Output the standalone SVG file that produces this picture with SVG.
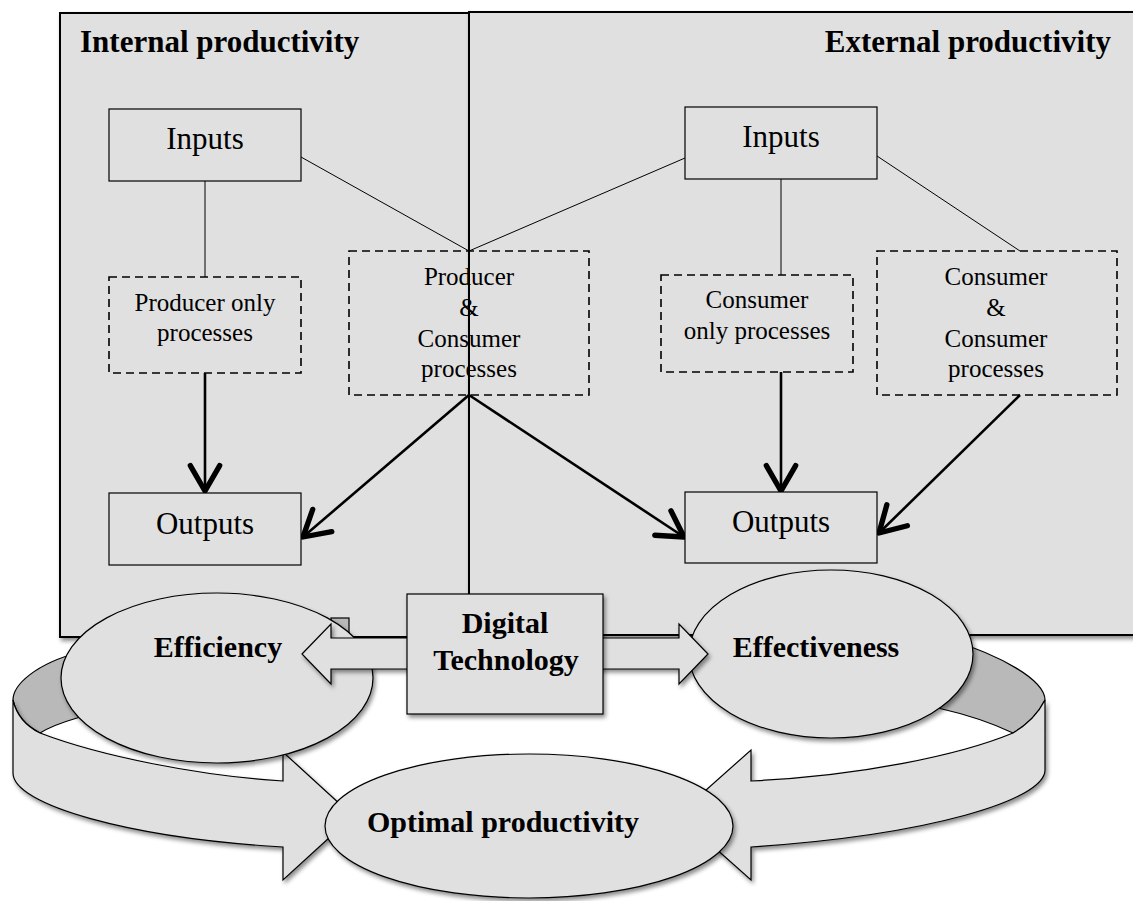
<svg xmlns="http://www.w3.org/2000/svg" width="1133" height="901" viewBox="0 0 1133 901">
<defs>
<filter id="sh" x="-10%" y="-10%" width="130%" height="130%">
<feDropShadow dx="2" dy="3" stdDeviation="2" flood-color="#000" flood-opacity="0.45"/>
</filter>
<marker id="ah" markerUnits="userSpaceOnUse" markerWidth="40" markerHeight="40" viewBox="-25 -15 30 30" refX="0" refY="0" orient="auto">
<path d="M-19,-11 L0,0 L-19,11" fill="none" stroke="#000" stroke-width="4" stroke-linejoin="round" stroke-linecap="round"/>
</marker>
<style>
.panel{fill:#e0e0e0;stroke:#000;stroke-width:2}
.box{fill:#e0e0e0;stroke:#000;stroke-width:1.2}
.dbox{fill:none;stroke:#000;stroke-width:1.6;stroke-dasharray:8 5}
.thin{stroke:#000;stroke-width:1;fill:none}
.arr{stroke:#000;stroke-width:2.6;fill:none;marker-end:url(#ah)}
.shape{fill:#e0e0e0;stroke:#000;stroke-width:1.2}
.dark{fill:#b9b9b9;stroke:#000;stroke-width:1.2}
.t{font-family:"Liberation Serif","Times New Roman",serif;fill:#000;text-anchor:middle}
.r31{font-size:31px}
.r25{font-size:25px}
.b31{font-size:31px;font-weight:bold}
.b30{font-size:30px;font-weight:bold}
</style>
</defs>
<rect width="1133" height="901" fill="#fff"/>
<g id="internal-panel">
<rect class="panel" x="60" y="13" width="412" height="624" filter="url(#sh)"/>
<text class="t b31" x="80" y="52" style="text-anchor:start">Internal productivity</text>
</g>
<g id="external-panel">
<rect class="panel" x="469" y="12" width="680" height="623" filter="url(#sh)"/>
<text class="t b31" x="1111" y="52" style="text-anchor:end">External productivity</text>
</g>
<g id="connectors">
<line class="thin" x1="205" y1="181" x2="205" y2="277"/>
<line class="thin" x1="301" y1="157" x2="469" y2="251"/>
<line class="thin" x1="685" y1="158" x2="469" y2="251"/>
<line class="thin" x1="781" y1="179" x2="781" y2="275"/>
<line class="thin" x1="877" y1="156" x2="1020" y2="251"/>
<line class="arr" x1="205" y1="373" x2="205" y2="491"/>
<line class="arr" x1="469" y1="395" x2="303" y2="537"/>
<line class="arr" x1="469" y1="395" x2="684" y2="537"/>
<line class="arr" x1="781" y1="372" x2="781" y2="491"/>
<line class="arr" x1="1020" y1="395" x2="879" y2="533"/>
</g>
<g id="inputs-left">
<rect class="box" x="109" y="109" width="192" height="72"/>
<text class="t r31" x="205" y="149">Inputs</text>
</g>
<g id="producer-only">
<rect class="dbox" x="109" y="277" width="192" height="96"/>
<text class="t r25" x="205" y="311">Producer only</text>
<text class="t r25" x="205" y="341">processes</text>
</g>
<g id="producer-consumer">
<rect class="dbox" x="349" y="251" width="240" height="144"/>
<text class="t r25" x="469" y="285">Producer</text>
<text class="t r25" x="469" y="316">&amp;</text>
<text class="t r25" x="469" y="347">Consumer</text>
<text class="t r25" x="469" y="377">processes</text>
</g>
<g id="outputs-left">
<rect class="box" x="109" y="493" width="192" height="72"/>
<text class="t r31" x="205" y="534">Outputs</text>
</g>
<g id="inputs-right">
<rect class="box" x="685" y="107" width="192" height="72"/>
<text class="t r31" x="781" y="147">Inputs</text>
</g>
<g id="consumer-only">
<rect class="dbox" x="661" y="275" width="192" height="97"/>
<text class="t r25" x="757" y="308">Consumer</text>
<text class="t r25" x="757" y="339">only processes</text>
</g>
<g id="consumer-consumer">
<rect class="dbox" x="877" y="251" width="240" height="144"/>
<text class="t r25" x="996" y="285">Consumer</text>
<text class="t r25" x="996" y="316">&amp;</text>
<text class="t r25" x="996" y="347">Consumer</text>
<text class="t r25" x="996" y="377">processes</text>
</g>
<g id="outputs-right">
<rect class="box" x="685" y="492" width="192" height="71"/>
<text class="t r31" x="781" y="532">Outputs</text>
</g>
<g id="cycle-left">
<path class="dark" d="M13,700 C13,685 35,664 80,652 L130,700 L77,718 C60,723 48,728 40,733 Q18,722 13,700 Z"/>
<path class="shape" filter="url(#sh)" d="M13,700 Q18,722 40,733 C100,756 200,776 283,781 L283,752 L353,816 L283,880 L283,847 C130,838 13,805 13,773 Z"/>
</g>
<g id="cycle-right">
<path class="dark" d="M950,640 C1000,655 1045,680 1045,700 Q1035,720 1013,733 C990,722 960,713 938,708 L900,690 Z"/>
<path class="shape" filter="url(#sh)" d="M1045,700 L1045,770 C1045,800 930,835 751,847 L751,880 L678,815 L751,750 L751,781 C860,776 960,755 1013,733 Q1035,720 1045,700 Z"/>
</g>
<rect class="dark" x="331" y="618" width="18" height="20"/>
<g id="efficiency">
<ellipse class="shape" cx="217" cy="678" rx="156" ry="85" filter="url(#sh)"/>
<text class="t b30" x="218" y="657">Efficiency</text>
</g>
<g id="effectiveness">
<ellipse class="shape" cx="831" cy="654" rx="142" ry="84" filter="url(#sh)"/>
<text class="t b30" x="816" y="657">Effectiveness</text>
</g>
<g id="optimal">
<ellipse class="shape" cx="529" cy="826" rx="204" ry="72" filter="url(#sh)"/>
<text class="t b30" x="503" y="832">Optimal productivity</text>
</g>
<g id="digital-technology">
<path class="shape" filter="url(#sh)" d="M302,654 L331,624 L331,638 L679,638 L679,624 L708,654 L679,684 L679,669 L331,669 L331,684 Z"/>
<rect class="shape" x="407" y="594" width="196" height="120" filter="url(#sh)"/>
<text class="t b30" x="505" y="633">Digital</text>
<text class="t b30" x="506" y="670">Technology</text>
</g>
</svg>
